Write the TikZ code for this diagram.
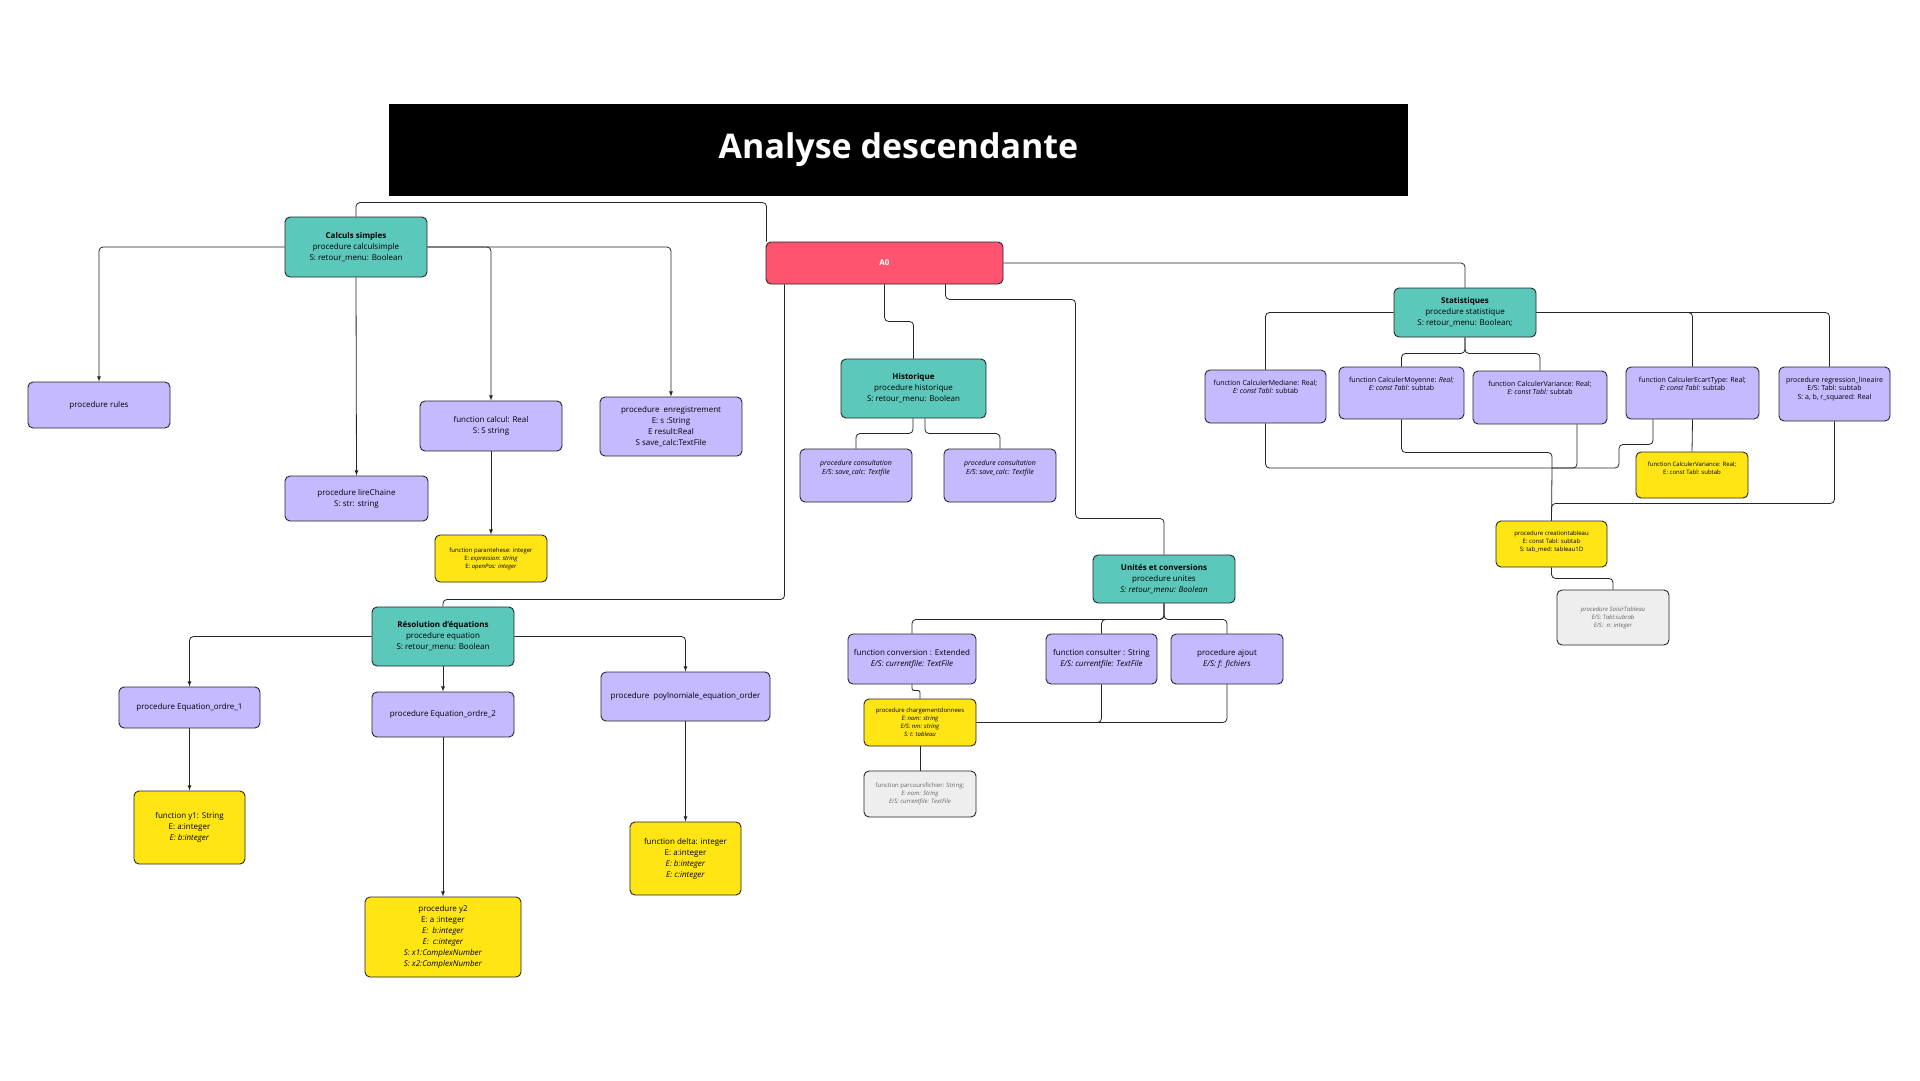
\documentclass[tikz,border=0pt]{standalone}
\usepackage{fontspec}
\setmainfont{Open Sans}
\usetikzlibrary{backgrounds}
\definecolor{tealc}{HTML}{5BC8BB}
\definecolor{lavc}{HTML}{C5BAFF}
\definecolor{yelc}{HTML}{FFE514}
\definecolor{redc}{HTML}{FF5470}
\definecolor{greyc}{HTML}{EEEEEE}

\begin{document}
\begin{tikzpicture}[x=1pt,y=-1pt,
	box/.style={draw=black!85,line width=0.9pt,rounded corners=5pt,align=center,inner sep=1pt,font=\fontsize{8}{11}\selectfont},
	wh/.style 2 args={minimum width=#1,minimum height=#2},
	module/.style={box,fill=tealc},
	sub/.style={box,fill=lavc},
	leaf/.style={box,fill=yelc},
	aux/.style={box,fill=greyc,text=black!60},
	small/.style={font=\fontsize{6}{8}\selectfont},
	toptext/.style={anchor=north,align=center,inner sep=0pt,yshift=-10pt},
	link/.style={draw=black!85,line width=0.8pt,rounded corners=4pt},
	arrow/.style={link,-latex}]
	\path[use as bounding box] (0,0) rectangle (1920,1080);
	\node[fill=black,wh={1019}{92},text=white,font=\fontsize{34}{40}\selectfont\bfseries] (title) at (898.5,150) {Analyse descendante};
	\node[box,fill=redc,wh={237}{42},text=white] (A0) at (884.5,263) {\textbf{A0}};

	\node[module,wh={142}{60}] (calc) at (356,247) {\textbf{Calculs simples}\\procedure calculsimple\\S: retour\_menu: Boolean};
	\node[sub,wh={142}{46}] (rules) at (99,405) {procedure rules};
	\node[sub,wh={143}{45}] (lire) at (356.5,498.5) {procedure lireChaine\\S: str: string};
	\node[sub,wh={142}{50}] (calcul) at (491,426) {function calcul: Real\\S: S string};
	\node[sub,wh={142}{59}] (enreg) at (671,426.5) {procedure\ \ enregistrement\\E: s :String\\E result:Real\\S save\_calc:TextFile};
	\node[leaf,small,wh={112}{47}] (paren) at (491,558.5) {function parantehese: integer\\E: \textit{expression: string}\\E: \textit{openPos: integer}};

	\node[module,wh={142}{59}] (resol) at (443,636.5) {\textbf{Résolution d’équations}\\procedure equation\\S: retour\_menu: Boolean};
	\node[sub,wh={141}{41}] (ordre1) at (189.5,707.5) {procedure Equation\_ordre\_1};
	\node[sub,wh={142}{45}] (ordre2) at (443,714.5) {procedure Equation\_ordre\_2};
	\node[sub,wh={169}{49}] (poly) at (685.5,696.5) {procedure\ \ poylnomiale\_equation\_order};
	\node[leaf,wh={111}{73}] (yone) at (189.5,827.5) {function y1: String\\E: a:integer\\\textit{E: b:integer}};
	\node[leaf,wh={156}{80}] (ytwo) at (443,937) {procedure y2\\E: a :integer\\\textit{E:\ \ b:integer}\\\textit{E:\ \ c:integer}\\\textit{S: x1:ComplexNumber}\\\textit{S: x2:ComplexNumber}};
	\node[leaf,wh={111}{73}] (delta) at (685.5,858.5) {function delta: integer\\E: a:integer\\\textit{E: b:integer}\\\textit{E: c:integer}};

	\node[module,wh={145}{59}] (hist) at (913.5,388.5) {\textbf{Historique}\\procedure historique\\S: retour\_menu: Boolean};
	\node[sub,wh={112}{53},label={[toptext,yshift=-1pt,font=\fontsize{7}{9}\selectfont\itshape]north:{procedure consultation\\E/S: save\_calc: Textfile}}] (cons1) at (856,475.5) {};
	\node[sub,wh={112}{53},label={[toptext,yshift=-1pt,font=\fontsize{7}{9}\selectfont\itshape]north:{procedure consultation\\E/S: save\_calc: Textfile}}] (cons2) at (1000,475.5) {};

	\node[module,wh={142}{48}] (unit) at (1164,579) {\textbf{Unités et conversions}\\procedure unites\\\textit{S: retour\_menu: Boolean}};
	\node[sub,wh={128}{50}] (conv) at (912,659) {function conversion : Extended\\\textit{E/S: currentfile: TextFile}};
	\node[sub,wh={111}{50}] (consu) at (1101.5,659) {function consulter : String\\\textit{E/S: currentfile: TextFile}};
	\node[sub,wh={112}{50}] (ajout) at (1227,659) {procedure ajout\\\textit{E/S: f: fichiers}};
	\node[leaf,small,wh={112}{47}] (charg) at (920,722.5) {procedure chargementdonnees\\\textit{E: nom: string}\\\textit{E/S: nm: string}\\\textit{S: t: tableau}};
	\node[aux,small,wh={112}{46}] (parc) at (920,794) {function parcoursfichier: String;\\\textit{E: nom: String}\\\textit{E/S: currentfile: TextFile}};

	\node[module,wh={142}{49}] (stat) at (1465,312.5) {\textbf{Statistiques}\\procedure statistique\\S: retour\_menu: Boolean;};
	\node[sub,wh={121}{53},label={[toptext,font=\fontsize{7}{8.5}\selectfont]north:{function CalculerMediane: Real;\\\textit{E: const Tabl:} subtab}}] (med) at (1265.5,396.5) {};
	\node[sub,wh={125}{52},label={[toptext,font=\fontsize{7}{8.5}\selectfont]north:{function CalculerMoyenne: \textit{Real;}\\\textit{E: const Tabl:} subtab}}] (moy) at (1401.5,393) {};
	\node[sub,wh={134}{53},label={[toptext,font=\fontsize{7}{8.5}\selectfont]north:{function CalculerVariance: Real;\\\textit{E: const Tabl:} subtab}}] (var) at (1540,397.5) {};
	\node[sub,wh={133}{52},label={[toptext,font=\fontsize{7}{8.5}\selectfont]north:{function CalculerEcartType: Real;\\\textit{E: const Tabl:} subtab}}] (ecart) at (1692.5,393) {};
	\node[sub,wh={111}{54},label={[toptext,font=\fontsize{7}{8.5}\selectfont]north:{procedure regression\_lineaire\\E/S: Tabl: subtab\\S: a, b, r\_squared: Real}}] (regr) at (1834.5,394) {};
	\node[leaf,wh={112}{46},label={[toptext,font=\fontsize{6}{8}\selectfont]north:{function CalculerVariance: Real;\\E: const Tabl: subtab}}] (yvar) at (1692,475) {};
	\node[leaf,wh={111}{46},label={[toptext,font=\fontsize{6}{8}\selectfont]north:{procedure creationtableau\\E: const Tabl: subtab\\S: tab\_med: tableau1D}}] (creat) at (1551.5,544) {};
	\node[aux,small,wh={112}{55}] (saisir) at (1613,617.5) {\textit{procedure SaisirTableau}\\\textit{E/S: Tabl:subrab}\\\textit{E/S:\ \ n: integer}};
	\coordinate (merge) at (1552,468);

	\begin{pgfonlayer}{background}
	\fill[white] (0,0) rectangle (1920,1080);
	\draw[link] (calc.north) -- ++(0,-14) -| ([xshift=1]A0.north west);
	\draw[arrow] (calc.west) -| (rules.north);
	\draw[arrow] (calc.east) -| (calcul.north);
	\draw[arrow] (calc.east) -| (enreg.north);
	\draw[arrow] (calc.south) -- (lire.north);
	\draw[arrow] (calcul.south) -- (paren.north);
	\draw[link] ([xshift=19]A0.south west) -- ++(0,315) -| (resol.north);
	\draw[link] (A0.south) -- ++(0,37) -| (hist.north);
	\draw[link] ([xshift=180]A0.south west) -- ++(0,15) -- ++(130,0) -- ++(0,219) -| (unit.north);
	\draw[link] (A0.east) -| (stat.north);
	\draw[link] ([xshift=-0.5]hist.south) -- ++(0,15) -| (cons1.north);
	\draw[link] ([xshift=11.5]hist.south) -- ++(0,15) -| (cons2.north);
	\draw[arrow] (resol.west) -| (ordre1.north);
	\draw[arrow] (resol.east) -| (poly.north);
	\draw[arrow] (resol.south) -- (ordre2.north);
	\draw[arrow] (ordre1.south) -- (yone.north);
	\draw[arrow] (ordre2.south) -- (ytwo.north);
	\draw[arrow] (poly.south) -- (delta.north);
	\draw[link] (unit.south) -- ++(0,16) -| (conv.north);
	\draw[link] (unit.south) -- ++(0,16) -| (consu.north);
	\draw[link] (unit.south) -- ++(0,16) -| (ajout.north);
	\draw[link,rounded corners=2pt] (conv.south) -- ++(0,6) -| (charg.north);
	\draw[link] (charg.south) -- (parc.north);
	\draw[link] (consu.south) |- (charg.east);
	\draw[link] (ajout.south) |- (charg.east);
	\draw[link] (stat.west) -| (med.north);
	\draw[link] (stat.south) -- ++(0,16) -| (moy.north);
	\draw[link] (stat.south) -- ++(0,16) -| (var.north);
	\draw[link] (stat.east) -| (ecart.north);
	\draw[link] (stat.east) -| ([xshift=-5]regr.north);
	\draw[link] (med.south) |- (merge);
	\draw[link] (moy.south) -- ++(0,33) -| (merge);
	\draw[link] ([xshift=37]var.south) |- (merge);
	\draw[link] ([xshift=-39.5]ecart.south) -- ++(0,25) -- ++(-34,0) |- (merge);
	\draw[link] (ecart.south) -- (yvar.north);
	\draw[link] (merge) -- (creat.north);
	\draw[link] (regr.south) -- ++(0,82) -| (creat.north);
	\draw[link] (creat.south) -- ++(0,11) -| (saisir.north);
	\end{pgfonlayer}
\end{tikzpicture}
\end{document}
